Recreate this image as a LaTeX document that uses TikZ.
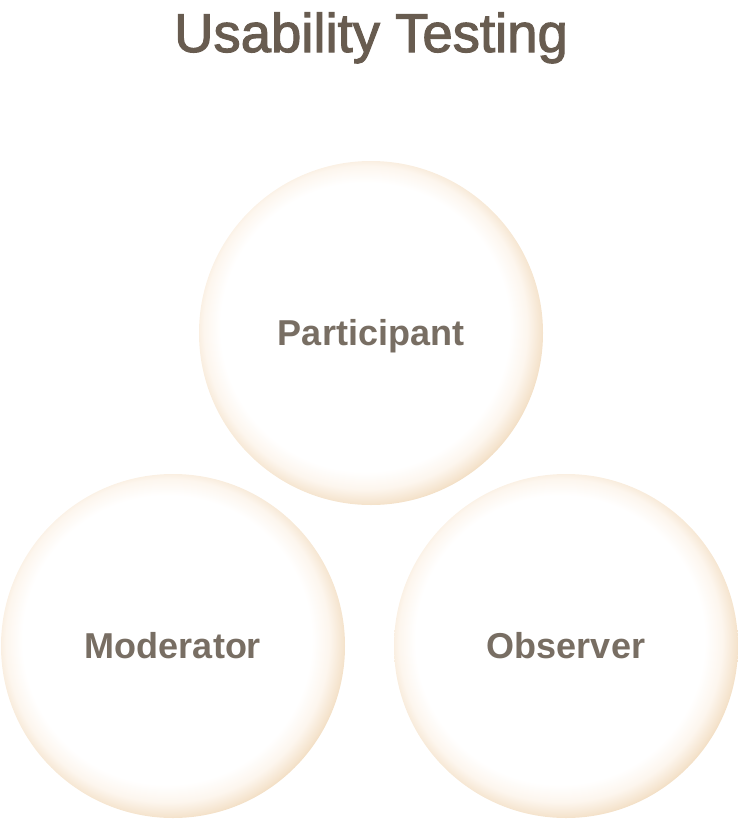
\documentclass[tikz,border=0pt]{standalone}
\usepackage{fontspec}
\setmainfont{Liberation Sans}
\newfontfamily\headingfont[FakeBold=2]{Liberation Sans}
\usetikzlibrary{positioning}

\definecolor{inkbrown}{RGB}{104,92,80}
\definecolor{labelbrown}{RGB}{120,110,99}
\definecolor{cream}{RGB}{253,246,238}
\definecolor{peach}{RGB}{237,210,174}

\pgfdeclareradialshading{bubblefill}{\pgfpoint{-1.5bp}{1.5bp}}{%
  color(0bp)=(white); color(21bp)=(white); color(23.5bp)=(cream);
  color(25.5bp)=(peach!50!cream); color(27bp)=(peach); color(50bp)=(peach)}

\tikzset{
  bubble/.style={circle, minimum size=344pt, inner sep=0pt, shading=bubblefill,
    text=labelbrown, font=\fontsize{36}{40}\selectfont\bfseries,
    text height=25pt, text depth=0pt},
  heading/.style={text=inkbrown, font=\fontsize{54.5}{60}\selectfont\headingfont,
    anchor=base}
}

\begin{document}
\begin{tikzpicture}[x=1pt, y=1pt]
  \useasboundingbox (0,0) rectangle (738,-819);

  % Title
  \node[heading] (title) at (371,-52) {Usability Testing};

  % Three roles
  \coordinate (top) at (371,-333);
  \coordinate (left) at (173,-646);
  \coordinate (right) at (566,-646);

  \node[bubble] (participant) at (top) {Participant};
  \node[bubble] (moderator) at (left) {Moderator};
  \node[bubble] (observer) at (right) {Observer};
\end{tikzpicture}
\end{document}
